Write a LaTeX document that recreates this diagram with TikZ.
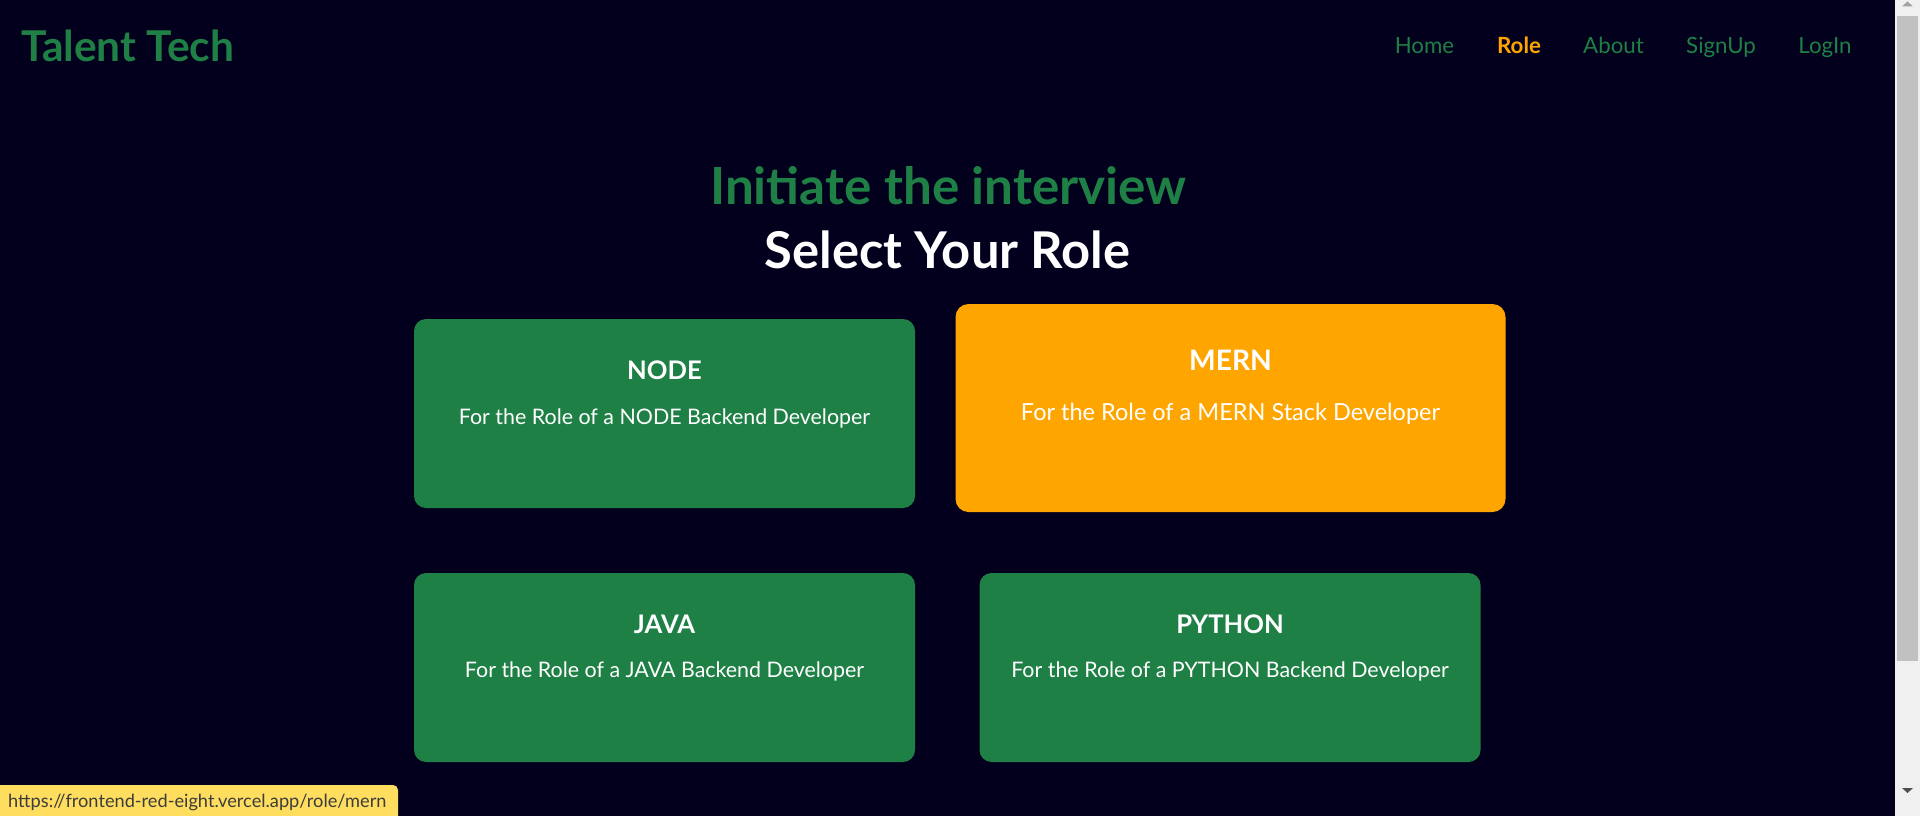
\documentclass[tikz,border=0pt]{standalone}
\usepackage{fontspec}
\setmainfont{Lato}
\usepackage{xcolor}
\usepackage{tikz}
\usetikzlibrary{calc}
\definecolor{bg}{HTML}{03001E}
\definecolor{leaf}{HTML}{1E8045}
\definecolor{amber}{HTML}{FFA500}
\definecolor{tip}{HTML}{FFDD5F}
\definecolor{tiptext}{HTML}{3C3C3C}
\definecolor{track}{HTML}{F0F0F0}
\definecolor{thumb}{HTML}{C1C1C1}
\tikzset{
  card/.style={fill=leaf, rounded corners=12pt, minimum width=501pt, minimum height=189pt, inner sep=0pt},
  cardon/.style={fill=amber, rounded corners=13pt, minimum width=550pt, minimum height=208pt, inner sep=0pt},
  ttl/.style={text=white, anchor=base, inner sep=0pt, font=\bfseries\fontsize{25.6}{31}\selectfont},
  ttlon/.style={text=white, anchor=base, inner sep=0pt, font=\bfseries\fontsize{28.2}{34}\selectfont},
  sub/.style={text=white, anchor=base, inner sep=0pt, font=\fontsize{21.4}{26}\selectfont},
  subon/.style={text=white, anchor=base, inner sep=0pt, font=\fontsize{23.5}{28}\selectfont},
  navl/.style={text=leaf, anchor=base, inner sep=0pt, font=\fontsize{22.3}{27}\selectfont},
  navon/.style={text=amber, anchor=base, inner sep=0pt, font=\bfseries\fontsize{22.3}{27}\selectfont},
  head/.style={anchor=base, inner sep=0pt, font=\bfseries\fontsize{50.7}{60}\selectfont},
}

\begin{document}
\begin{tikzpicture}[x=1pt, y=-1pt]
  \useasboundingbox (0,0) rectangle (1920,816);
  \fill[bg] (0,0) rectangle (1920,816);

  % top bar
  \node[anchor=base west, inner sep=0pt, text=leaf, font=\bfseries\fontsize{42.5}{50}\selectfont] (brand) at (21,62) {Talent Tech};
  \node[navl] (home) at (1424.5,54) {Home};
  \node[navon] (role) at (1519,54) {Role};
  \node[navl] (about) at (1613.5,54) {About};
  \node[navl] (signup) at (1721,54) {SignUp};
  \node[navl] (login) at (1825,54) {LogIn};

  % headings
  \node[head, text=leaf, font=\bfseries\fontsize{51.2}{60}\selectfont] (initiate) at (948.5,204) {Initiate the interview};
  \node[head, text=white] (select) at (947.5,268) {Select Your Role};

  % role cards
  \node[card] (cardnode) at (664.5,413.5) {};
  \node[ttl] (nodettl) at ($(cardnode.north)+(0,61)$) {NODE};
  \node[sub] (nodesub) at ($(cardnode.north)+(0,106)$) {For the Role of a NODE Backend Developer};

  \node[cardon] (cardmern) at (1230.5,408) {};
  \node[ttlon] (merntt) at ($(cardmern.north)+(0,67)$) {MERN};
  \node[subon] (mernsub) at ($(cardmern.north)+(0,117)$) {For the Role of a MERN Stack Developer};

  \node[card] (cardjava) at (664.5,667.5) {};
  \node[ttl] (javattl) at ($(cardjava.north)+(0,61)$) {JAVA};
  \node[sub] (javasub) at ($(cardjava.north)+(0,105)$) {For the Role of a JAVA Backend Developer};

  \node[card] (cardpy) at (1230,667.5) {};
  \node[ttl] (pyttl) at ($(cardpy.north)+(0,61)$) {PYTHON};
  \node[sub] (pysub) at ($(cardpy.north)+(0,105)$) {For the Role of a PYTHON Backend Developer};

  % status line
  \fill[tip] (0,816) -- (0,785) [rounded corners=5pt] -- (398,785) -- (398,830) [sharp corners] -- (0,830) -- cycle;
  \node[anchor=base west, inner sep=0pt, text=tiptext, font=\fontsize{18.2}{22}\selectfont] (link) at (8,807) {https://frontend-red-eight.vercel.app/role/mern};

  % scrollbar
  \fill[track] (1895,0) rectangle (1920,816);
  \fill[thumb] (1897,16) rectangle (1918,661);
  \fill[black!36] (1902,6.5) -- (1913,6.5) -- (1907.5,1.5) -- cycle;
  \fill[black!69] (1902,788) -- (1913,788) -- (1907.5,793) -- cycle;
\end{tikzpicture}
\end{document}
